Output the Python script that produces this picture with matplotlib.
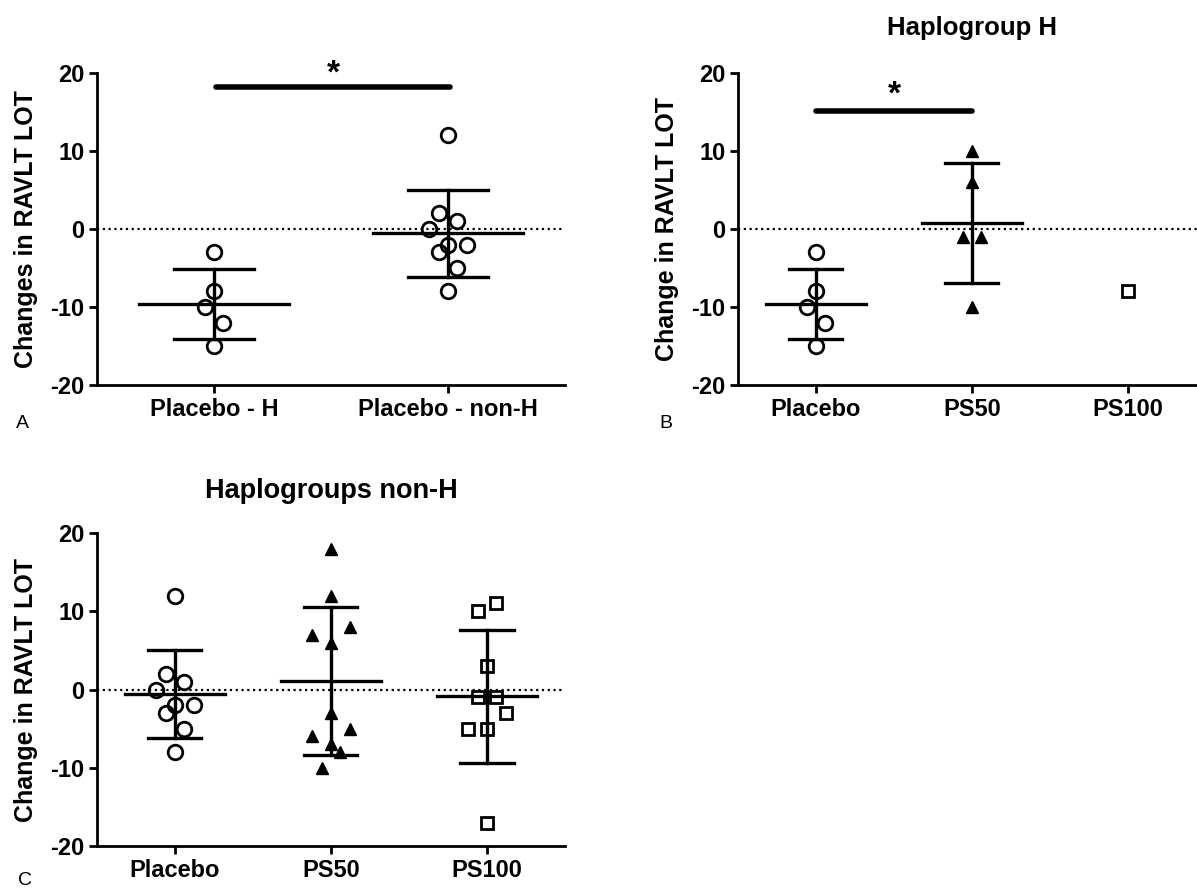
import matplotlib
matplotlib.use('Agg')
import matplotlib.pyplot as plt
import matplotlib.transforms as mtransforms
import numpy as np

plt.rcParams['font.family'] = ['Liberation Sans', 'DejaVu Sans']
plt.rcParams['font.weight'] = 'bold'
plt.rcParams['axes.unicode_minus'] = False

# Datos (cambio en RAVLT LOT)
placebo_h = [-3, -8, -10, -12, -15]
placebo_non_h = [12, 2, 1, 0, -2, -2, -3, -5, -8]
ps50_h = [10, 6, -1, -1, -10]
ps100_h = [-8]
ps50_non_h = [18, 12, 8, 7, 6, -3, -5, -6, -7, -8, -10]
ps100_non_h = [11, 10, 3, -1, -1, -3, -5, -5, -17]

labels_a = ['Placebo - H', 'Placebo - non-H']
labels_bc = ['Placebo', 'PS50', 'PS100']
yticks = [-20, -10, 0, 10, 20]

# desplazamiento horizontal de los puntos (en pasos)
jit_placebo_h = [0, 0, -1, 1, 0]
jit_placebo_non_h = [0, -1, 1, -2, 0, 2, -1, 1, 0]
jit_ps50_h = [0, 0, -1, 1, 0]
jit_ps100_h = [0]
jit_ps50_non_h = [0, 0, 2, -2, 0, 0, 2, -2, 0, 1, -1]
jit_ps100_non_h = [1, -1, 0, -1, 1, 2, -2, 0, 0]

STEP = 6.8  # puntos

fig = plt.figure(figsize=(11.97, 8.9), dpi=100)


def setup(ax, labels, ylabel):
    ax.set_xlim(-0.5, len(labels) - 0.5)
    ax.set_ylim(-20, 20)
    ax.spines['top'].set_visible(False)
    ax.spines['right'].set_visible(False)
    ax.spines['left'].set_linewidth(2)
    ax.spines['bottom'].set_linewidth(2)
    ax.set_yticks(yticks)
    ax.set_xticks(range(len(labels)))
    ax.set_xticklabels(labels)
    ax.tick_params(width=2, length=6, labelsize=17, pad=3)
    ax.set_ylabel(ylabel, fontsize=18, fontweight='bold')
    ax.yaxis.set_label_coords(-0.125, 0.5)
    ax.axhline(0, color='black', lw=1.6, ls=(0, (1, 1.6)), zorder=1)


def group(ax, i, vals, jit, marker, ms, filled):
    for v, j in zip(vals, jit):
        tr = mtransforms.offset_copy(ax.transData, fig=fig, x=j * STEP, y=0, units='points')
        ax.plot(i, v, marker=marker, ms=ms, mec='black', mew=1 if filled else 2,
                mfc='black' if filled else 'none', transform=tr, zorder=2)
    if len(vals) > 1:
        m = np.mean(vals)
        s = np.std(vals, ddof=1)
        ax.plot([i - 0.32, i + 0.32], [m, m], color='black', lw=2.4, zorder=3)
        ax.plot([i, i], [m - s, m + s], color='black', lw=2.4, zorder=3)
        ax.plot([i - 0.17, i + 0.17], [m + s, m + s], color='black', lw=2.4, zorder=3)
        ax.plot([i - 0.17, i + 0.17], [m - s, m - s], color='black', lw=2.4, zorder=3)


def signif(ax, x0, x1, y, ystar):
    ax.plot([x0, x1], [y, y], color='black', lw=4, solid_capstyle='round', clip_on=False)
    ax.text((x0 + x1) / 2, ystar, '*', ha='center', va='center', fontsize=24, fontweight='bold')


# A
ax_a = fig.add_axes([0.081, 0.5674, 0.391, 0.3506])
setup(ax_a, labels_a, 'Changes in RAVLT LOT')
group(ax_a, 0, placebo_h, jit_placebo_h, 'o', 10.5, False)
group(ax_a, 1, placebo_non_h, jit_placebo_non_h, 'o', 10.5, False)
signif(ax_a, 0.01, 1.01, 18.2, 19.8)

# B
ax_b = fig.add_axes([0.6165, 0.5674, 0.391, 0.3506])
setup(ax_b, labels_bc, 'Change in RAVLT LOT')
group(ax_b, 0, placebo_h, jit_placebo_h, 'o', 10.5, False)
group(ax_b, 1, ps50_h, jit_ps50_h, '^', 8.5, True)
group(ax_b, 2, ps100_h, jit_ps100_h, 's', 9, False)
signif(ax_b, 0.0, 1.0, 15.1, 17.2)
ax_b.set_title('Haplogroup H', fontsize=18.5, fontweight='bold', pad=27)

# C
ax_c = fig.add_axes([0.081, 0.0494, 0.391, 0.3517])
setup(ax_c, labels_bc, 'Change in RAVLT LOT')
group(ax_c, 0, placebo_non_h, jit_placebo_non_h, 'o', 10.5, False)
group(ax_c, 1, ps50_non_h, jit_ps50_non_h, '^', 8.5, True)
group(ax_c, 2, ps100_non_h, jit_ps100_non_h, 's', 9, False)
ax_c.set_title('Haplogroups non-H', fontsize=19.5, fontweight='bold', pad=25)

fig.text(0.0185, 0.524, 'A', fontsize=14, fontweight='normal', ha='center', va='center')
fig.text(0.556, 0.524, 'B', fontsize=14, fontweight='normal', ha='center', va='center')
fig.text(0.021, 0.011, 'C', fontsize=14, fontweight='normal', ha='center', va='center')

fig.savefig('out.png', dpi=100)
